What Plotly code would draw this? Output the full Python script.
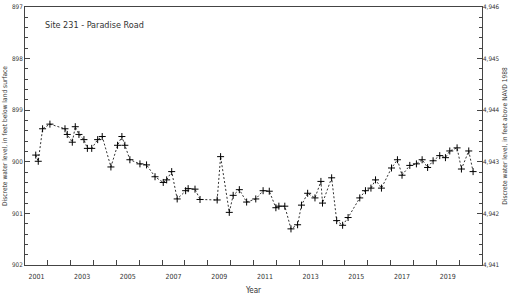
import plotly.graph_objects as go

years = [2001.47, 2001.58, 2001.77, 2002.09, 2002.75, 2002.85, 2003.07, 2003.20, 2003.36, 2003.58,
         2003.73, 2003.92, 2004.18, 2004.38, 2004.76, 2005.05, 2005.24, 2005.37, 2005.59, 2006.03,
         2006.32, 2006.69, 2007.05, 2007.20, 2007.42, 2007.66, 2008.03, 2008.14, 2008.44, 2008.66,
         2009.41, 2009.56, 2009.94, 2010.11, 2010.38, 2010.70, 2011.10, 2011.42, 2011.69, 2011.98,
         2012.11, 2012.37, 2012.64, 2012.93, 2013.10, 2013.37, 2013.69, 2013.95, 2014.02, 2014.42,
         2014.64, 2014.90, 2015.14, 2015.65, 2015.90, 2016.14, 2016.34, 2016.60, 2017.04, 2017.30,
         2017.50, 2017.84, 2018.13, 2018.38, 2018.62, 2018.86, 2019.15, 2019.40, 2019.59, 2019.91,
         2020.10, 2020.42, 2020.61]
depth = [899.87, 899.99, 899.36, 899.27, 899.36, 899.47, 899.62, 899.32, 899.47, 899.57,
         899.74, 899.74, 899.57, 899.51, 900.10, 899.68, 899.51, 899.68, 899.96, 900.04,
         900.06, 900.29, 900.40, 900.35, 900.19, 900.72, 900.56, 900.52, 900.53, 900.73,
         900.74, 899.90, 900.98, 900.65, 900.54, 900.78, 900.72, 900.56, 900.57, 900.89,
         900.86, 900.86, 901.30, 901.22, 900.84, 900.61, 900.70, 900.38, 900.80, 900.31,
         901.14, 901.23, 901.08, 900.70, 900.56, 900.51, 900.35, 900.51, 900.12, 899.96,
         900.26, 900.07, 900.04, 899.96, 900.11, 899.98, 899.88, 899.92, 899.79, 899.73,
         900.14, 899.79, 900.19]

year_labels = ["2001", "2003", "2005", "2007", "2009", "2011", "2013", "2015", "2017", "2019"]
year_label_pos = [int(y) + 0.5 for y in year_labels]
left_ticks = [897, 898, 899, 900, 901, 902]
right_ticks = [4941, 4942, 4943, 4944, 4945, 4946]

FONT = "Liberation Sans Narrow, Arial Narrow, DejaVu Sans Condensed, sans-serif"
AX = "#444444"
TXT = "#333333"

fig = go.Figure()
fig.add_trace(go.Scatter(
    x=years, y=depth, mode="lines+markers",
    line=dict(color="#333333", width=1, dash="2px,2px"),
    marker=dict(symbol="cross-thin", size=5, line=dict(color="black", width=1)),
    showlegend=False, hoverinfo="skip"))
# invisible trace to activate right axis
fig.add_trace(go.Scatter(x=[2001], y=[4941], yaxis="y2", mode="markers",
                         marker=dict(opacity=0), showlegend=False, hoverinfo="skip"))

fig.update_layout(
    width=514, height=296,
    margin=dict(l=25, r=32, t=3, b=29),
    paper_bgcolor="white", plot_bgcolor="white",
    font=dict(family=FONT, size=7, color=TXT),
    xaxis=dict(range=[2001, 2021], tickmode="array", tickvals=year_label_pos, ticktext=year_labels,
               ticks="inside", ticklen=0, showgrid=False, zeroline=False,
               showline=True, linecolor=AX, linewidth=1, mirror=True,
               minor=dict(ticks="inside", ticklen=5, tickcolor=AX, tickmode="linear",
                          tick0=2001, dtick=1, showgrid=False),
               ticklabelstandoff=5,
               title=dict(text="Year", font=dict(size=8), standoff=6),
               tickfont=dict(size=7, color=TXT)),
    yaxis=dict(range=[902, 897], tickmode="array", tickvals=left_ticks,
               ticks="inside", ticklen=5, tickcolor=AX, showgrid=False, zeroline=False,
               showline=True, linecolor=AX, linewidth=1, mirror=True,
               ticklabeloverflow="allow",
               minor=dict(ticks="inside", ticklen=3, tickcolor=AX, dtick=0.2, showgrid=False),
               title=dict(text="Discrete water level, in feet below land surface", font=dict(size=6.6), standoff=3),
               tickfont=dict(size=6.3, color=TXT)),
    yaxis2=dict(range=[4941, 4946], overlaying="y", side="right", tickmode="array",
                tickvals=right_ticks, tickformat=",d",
                ticks="inside", ticklen=5, tickcolor=AX, showgrid=False, zeroline=False,
                showline=False, ticklabeloverflow="allow",
                minor=dict(ticks="inside", ticklen=3, tickcolor=AX, dtick=0.2, showgrid=False),
                title=dict(text="Discrete water level, in feet above NAVD 1988", font=dict(size=6.6), standoff=3),
                tickfont=dict(size=6.3, color=TXT)),
    annotations=[dict(text="Site 231 - Paradise Road", x=0.04, y=0.93, xref="paper", yref="paper",
                      xanchor="left", yanchor="middle", showarrow=False,
                      font=dict(size=9, color=TXT))],
)

fig.write_html("out.html")
